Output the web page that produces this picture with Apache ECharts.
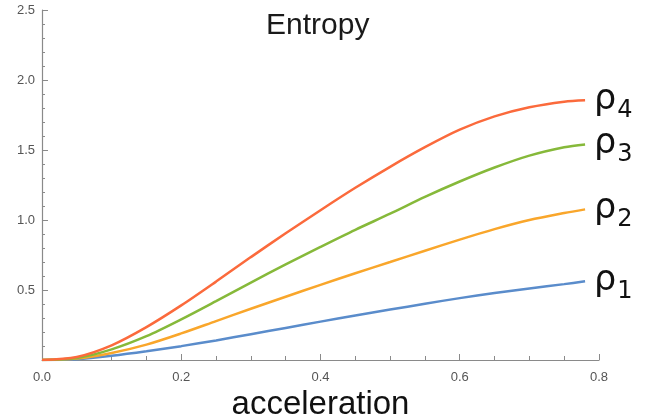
<!DOCTYPE html>
<html>
<head>
<meta charset="utf-8">
<script src="https://cdn.jsdelivr.net/npm/echarts@6/dist/echarts.min.js"></script>
<style>html,body{margin:0;padding:0;background:#fff;}#c{width:657px;height:420px;}</style>
</head>
<body>
<div id="c"></div>
<script>
const accel = [0, 0.05, 0.1, 0.15, 0.2, 0.25, 0.3, 0.35, 0.4, 0.45, 0.5, 0.55, 0.6, 0.65, 0.7, 0.75, 0.78];
const rho1 = [0, 0.006, 0.03, 0.062, 0.099, 0.14, 0.184, 0.229, 0.274, 0.318, 0.36, 0.402, 0.442, 0.478, 0.511, 0.542, 0.562];
const rho2 = [0, 0.01, 0.05, 0.11, 0.19, 0.278, 0.366, 0.452, 0.537, 0.62, 0.70, 0.78, 0.86, 0.935, 1.0, 1.05, 1.076];
const rho3 = [0, 0.014, 0.076, 0.17, 0.29, 0.42, 0.553, 0.683, 0.808, 0.93, 1.045, 1.165, 1.275, 1.375, 1.46, 1.52, 1.54];
const rho4 = [0, 0.022, 0.105, 0.235, 0.39, 0.56, 0.735, 0.905, 1.07, 1.23, 1.38, 1.52, 1.645, 1.74, 1.805, 1.845, 1.855];
const seriesNames = ['1', '2', '3', '4'];
const seriesData = [rho1, rho2, rho3, rho4];
const colors = ['#5a8ccb', '#f9a62b', '#86b93a', '#fb6a3c'];
const xTicks = [0, 0.2, 0.4, 0.6, 0.8];
const yTicks = [0.5, 1.0, 1.5, 2.0, 2.5];
const titleText = 'Entropy';
const xName = 'acceleration';

const chart = echarts.init(document.getElementById('c'));
chart.setOption({
  animation: false,
  backgroundColor: '#fff',
  title: {
    text: titleText, left: 261, top: 6,
    textStyle: { fontFamily: 'Liberation Sans', fontSize: 30, fontWeight: 'normal', color: '#1a1a1a' }
  },
  grid: { left: 42, right: 58, top: 10, bottom: 60, containLabel: false, outerBoundsMode: 'none' },
  xAxis: {
    type: 'value', min: 0, max: 0.8, interval: 0.2,
    name: xName, nameLocation: 'middle', nameGap: 18,
    nameTextStyle: { fontFamily: 'Liberation Sans', fontSize: 33, color: '#111', verticalAlign: 'top' },
    axisLine: { lineStyle: { color: '#8a8a8a', width: 1.2 } },
    axisTick: { inside: true, length: 6, lineStyle: { color: '#8a8a8a' } },
    minorTick: { show: true, splitNumber: 4, length: 4, lineStyle: { color: '#8a8a8a' } },
    splitLine: { show: false },
    axisLabel: { fontFamily: 'Liberation Sans', fontSize: 13, color: '#555', margin: 11,
      formatter: v => xTicks.includes(+v.toFixed(2)) ? v.toFixed(1) : '' }
  },
  yAxis: {
    type: 'value', min: 0, max: 2.5, interval: 0.5,
    axisLine: { show: true, lineStyle: { color: '#8a8a8a', width: 1.2 } },
    axisTick: { show: true, inside: true, length: 6, lineStyle: { color: '#8a8a8a' } },
    minorTick: { show: true, splitNumber: 5, length: 3, lineStyle: { color: '#8a8a8a' } },
    splitLine: { show: false },
    axisLabel: { fontFamily: 'Liberation Sans', fontSize: 13, color: '#555', margin: 7,
      formatter: v => yTicks.includes(+v.toFixed(2)) ? v.toFixed(1) : '' }
  },
  series: seriesData.map((d, i) => ({
    type: 'line',
    data: accel.map((a, j) => [a, d[j]]),
    smooth: 0.3,
    showSymbol: false,
    lineStyle: { color: colors[i], width: 2.5 },
    itemStyle: { color: colors[i] },
    endLabel: {
      show: true, distance: 9,
      formatter: '{a|ρ}{b|' + seriesNames[i] + '}',
      rich: {
        a: { fontFamily: 'DejaVu Sans', fontSize: 35, color: '#111' },
        b: { fontFamily: 'DejaVu Sans', fontSize: 24, color: '#111', padding: [20, 0, 0, 1] }
      }
    },
    z: 2 + i
  }))
});
</script>
</body>
</html>
